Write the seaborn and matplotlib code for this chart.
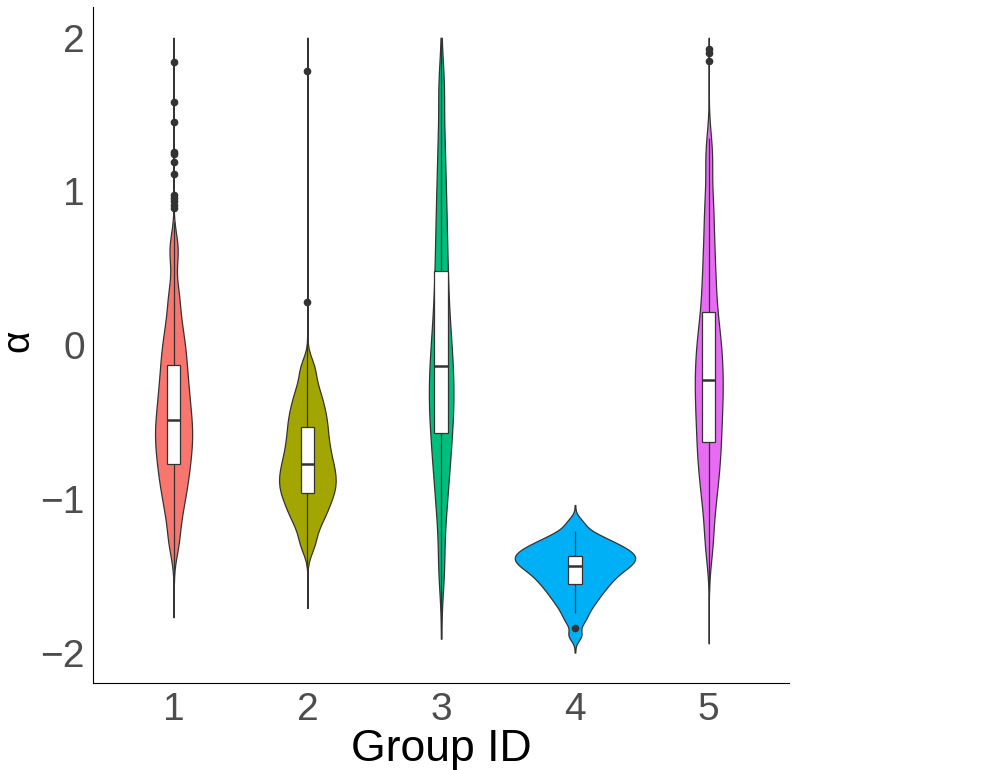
#!/usr/bin/env python3
"""
Violin plots of alpha per group with narrow boxplots on top (ggplot look).
"""

import matplotlib

matplotlib.use("Agg")

import matplotlib.pyplot as plt
import numpy as np
import pandas as pd
import seaborn as sns

GROUPS = ["1", "2", "3", "4", "5"]
PALETTE = ["#F8766D", "#A3A500", "#00BF7D", "#00B0F6", "#E76BF3"]
Y_TICKS = [-2, -1, 0, 1, 2]

# Violin bodies: quantiles of alpha, every value
# stands for the same share of the observations.
G1_BODY = [-1.28, -1.11, -1.00, -0.915, -0.842, -0.775, -0.71, -0.652, -0.594, -0.54, -0.484,
           -0.42, -0.355, -0.285, -0.215, -0.13, -0.05, 0.04, 0.16, 0.33, 0.62]
G2_BODY = [-1.29, -1.17, -1.105, -1.05, -1.005, -0.96, -0.925, -0.89, -0.85, -0.813, -0.775,
           -0.73, -0.685, -0.635, -0.585, -0.53, -0.478, -0.42, -0.355, -0.275, -0.15]
G3_BODY = [-1.45, -1.12, -0.93, -0.79, -0.675, -0.571, -0.475, -0.39, -0.31, -0.225, -0.137,
           -0.045, 0.06, 0.18, 0.32, 0.482, 0.65, 0.84, 1.05, 1.32, 1.68]
G4_BODY = [-1.887, -1.802, -1.753, -1.715, -1.683, -1.658, -1.633, -1.613, -1.594, -1.574,
           -1.559, -1.543, -1.527, -1.514, -1.500, -1.487, -1.474, -1.463, -1.453, -1.442,
           -1.432, -1.422, -1.413, -1.404, -1.395, -1.387, -1.378, -1.369, -1.360, -1.350,
           -1.341, -1.332, -1.322, -1.310, -1.298, -1.285, -1.273, -1.254, -1.235, -1.207,
           -1.152]
G5_BODY = [-1.29, -1.06, -0.92, -0.81, -0.715, -0.63, -0.54, -0.455, -0.375, -0.30, -0.224,
           -0.148, -0.07, 0.013, 0.10, 0.217, 0.365, 0.52, 0.71, 0.93, 1.24]

# Single observations at the trimmed ends of each violin.
G1_ENDS = [-1.77, 2.00]
G2_ENDS = [-1.71, 2.00]
G3_ENDS = [-1.91, 2.00]
G4_ENDS = [-2.00, -1.04]
G5_ENDS = [-1.94, 2.00]

# Boxplot summaries: lower whisker, Q1, median, Q3, upper whisker.
G1_BOX = [-1.55, -0.775, -0.484, -0.13, 0.802]
G2_BOX = [-1.45, -0.96, -0.775, -0.53, 0.05]
G3_BOX = [-1.91, -0.571, -0.137, 0.482, 2.00]
G4_BOX = [-1.744, -1.551, -1.438, -1.373, -1.21]
G5_BOX = [-1.60, -0.63, -0.224, 0.217, 1.35]

G1_OUTLIERS = [0.891, 0.912, 0.935, 0.955, 0.976, 1.113, 1.193, 1.243, 1.258, 1.449, 1.581, 1.843]
G2_OUTLIERS = [0.282, 1.781]
G3_OUTLIERS = []
G4_OUTLIERS = [-1.837]
G5_OUTLIERS = [1.846, 1.90, 1.93]

BODY_WEIGHT = 20
BOX_WEIGHT = 100

INK = "#333333"
TICK_GREY = "#4D4D4D"


def violin_frame() -> pd.DataFrame:
    bodies = [G1_BODY, G2_BODY, G3_BODY, G4_BODY, G5_BODY]
    ends = [G1_ENDS, G2_ENDS, G3_ENDS, G4_ENDS, G5_ENDS]
    frames = []
    for group, body, tail in zip(GROUPS, bodies, ends):
        values = np.concatenate([np.repeat(body, BODY_WEIGHT), tail])
        frames.append(pd.DataFrame({"group": group, "alpha": values}))
    return pd.concat(frames, ignore_index=True)


def box_frame() -> pd.DataFrame:
    summaries = [G1_BOX, G2_BOX, G3_BOX, G4_BOX, G5_BOX]
    outliers = [G1_OUTLIERS, G2_OUTLIERS, G3_OUTLIERS, G4_OUTLIERS, G5_OUTLIERS]
    frames = []
    for group, (lo, q1, med, q3, hi), extra in zip(GROUPS, summaries, outliers):
        values = np.concatenate([[lo], np.repeat([q1, med, q3], BOX_WEIGHT), [hi], extra])
        frames.append(pd.DataFrame({"group": group, "alpha": values}))
    return pd.concat(frames, ignore_index=True)


def main() -> None:
    sns.set_style("white")
    plt.rcParams["font.family"] = ["Liberation Sans", "DejaVu Sans"]

    fig = plt.figure(figsize=(9.97, 7.7), dpi=100)
    ax = fig.add_axes([0.0936, 0.1126, 0.6978, 0.8783])

    sns.violinplot(
        data=violin_frame(),
        x="group",
        y="alpha",
        hue="group",
        order=GROUPS,
        hue_order=GROUPS,
        palette=PALETTE,
        legend=False,
        cut=0,
        bw_method=0.22,
        density_norm="area",
        common_norm=True,
        width=0.9,
        inner=None,
        linewidth=0.9,
        linecolor=INK,
        saturation=1,
        ax=ax,
    )
    sns.boxplot(
        data=box_frame(),
        x="group",
        y="alpha",
        order=GROUPS,
        width=0.1,
        color="white",
        linecolor=INK,
        linewidth=0.9,
        saturation=1,
        showcaps=False,
        fliersize=4.5,
        medianprops={"linewidth": 1.8, "color": INK},
        flierprops={"marker": "o", "markerfacecolor": INK, "markeredgecolor": INK},
        ax=ax,
    )

    ax.set_xlim(-0.6, 4.6)
    ax.set_ylim(-2.2, 2.2)
    ax.set_yticks(Y_TICKS)

    for side in ["top", "right"]:
        ax.spines[side].set_visible(False)
    for side in ["left", "bottom"]:
        ax.spines[side].set_color("black")
        ax.spines[side].set_linewidth(0.8)

    ax.tick_params(axis="both", length=3.6, width=0.8, color=INK,
                   labelsize=28, labelcolor=TICK_GREY)
    ax.tick_params(axis="x", pad=3)
    ax.tick_params(axis="y", pad=2.4)

    ax.set_xlabel("Group ID", fontsize=32, color="black")
    ax.set_ylabel("α", fontsize=28, color="black")
    ax.xaxis.set_label_coords(0.5, -0.068)
    ax.yaxis.set_label_coords(-0.082, 0.507)

    fig.savefig("out.png", dpi=100)
    plt.close(fig)


if __name__ == "__main__":
    main()
